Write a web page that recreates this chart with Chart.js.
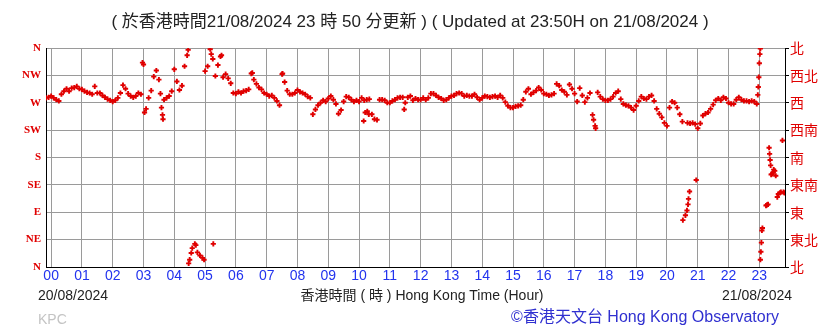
<!DOCTYPE html>
<html lang="zh-HK">
<head>
<meta charset="UTF-8">
<title>KPC wind direction</title>
<script src="https://cdn.jsdelivr.net/npm/chart.js@4.4.1/dist/chart.umd.min.js"></script>
<style>
  body { margin: 0; background: #fff; }
</style>
</head>
<body>
<canvas id="chart" width="838" height="331"></canvas>
<script>
// wind direction in degrees, one reading every 5 minutes from 23:50 on 20/08
const startMinute = -10;
const stepMinutes = 5;
const bearing = [
  278, 279,
  281, 278, 275, 273, 284, 289, 293, 289, 294, 295, 297, 293, // 00
  292, 289, 287, 286, 284, 297, 286, 286, 282, 279, 276, 274, // 01
  272, 274, 278, 286, 299, 293, 285, 281, 279, 281, 286, 284, // 02
  333, 260, 278, 290, 313, 323, 308, 262, 275, 278, 281, 289, // 03
  325, 305, 291, 298, 330, 348, 12, 31, 38, 24, 19, 15,       // 04
  322, 330, 358, 342, 314, 332, 346, 312, 317, 310, 302, 286, // 05
  285, 288, 286, 289, 290, 292, 318, 308, 301, 295, 292, 286, // 06
  284, 281, 282, 278, 273, 266, 317, 304, 290, 284, 284, 286, // 07
  291, 288, 286, 284, 280, 278, 251, 259, 266, 270, 274, 272, // 08
  277, 281, 275, 268, 252, 258, 272, 280, 279, 275, 272, 274, // 09
  272, 278, 274, 275, 276, 251, 243, 242, 275, 275, 274, 270, // 10
  270, 273, 275, 278, 279, 279, 270, 279, 281, 274, 277, 275, // 11
  275, 278, 275, 278, 285, 285, 282, 279, 277, 274, 275, 278, // 12
  281, 282, 285, 286, 285, 281, 282, 281, 281, 284, 279, 275, // 13
  278, 281, 280, 279, 280, 281, 279, 282, 278, 271, 265, 262, // 14
  262, 264, 265, 266, 275, 288, 293, 284, 287, 290, 295, 291, // 15
  285, 284, 282, 283, 285, 301, 298, 291, 288, 283, 300, 293, // 16
  285, 272, 294, 282, 271, 278, 286, 250, 232, 287, 280, 276, // 17
  274, 274, 276, 280, 286, 289, 276, 268, 266, 265, 262, 258, // 18
  265, 273, 280, 277, 276, 280, 282, 273, 260, 252, 246, 237, // 19
  232, 262, 272, 270, 262, 251, 239, null, 237, 236, 237, 235, // 20
  228, 236, 249, 252, 254, 260, 267, 274, 277, 274, 279, 277, // 21
  270, 268, 268, 275, 279, 275, 273, 273, 272, 273, 272, 268, // 22
  335, 60, null, 102, 186, 153, 158, 115, 122, 208            // 23
];

// extra readings in between (jumps, stray points, wrap round north)
const extraMinute = [
  178, 182, 213, 217, 218, 267, 268, 273, 282, 298,
  312, 316, 332, 392, 451, 609, 612, 616, 619, 688,
  1057, 1061, 1231, 1236, 1239, 1241, 1242, 1244, 1257,
  1377, 1378, 1379, 1381, 1382, 1382, 1383, 1384, 1386,
  1393, 1397, 1399, 1401, 1402, 1403, 1407, 1408, 1412,
  1417, 1422, 1427, 1429
];
const extraBearing = [
  336, 254, 285, 250, 243, 357, 6, 23, 36, 12,
  350, 38, 348, 319, 318, 240, 254, 256, 251, 259,
  242, 228, 77, 85, 93, 103, 112, 124, 143,
  283, 296, 312, 350, 359, 12, 25, 40, 64,
  101, 103, 196, 176, 167, 152, 156, 160, 150,
  120, 123, 123, 122
];

const hourLabels = ['00','01','02','03','04','05','06','07','08','09','10','11',
                    '12','13','14','15','16','17','18','19','20','21','22','23'];
const dirLabels = ['N','NE','E','SE','S','SW','W','NW','N'];
const dirLabelsZh = ['北','東北','東','東南','南','西南','西','西北','北'];

const titleText = '( 於香港時間21/08/2024 23 時 50 分更新 ) ( Updated at 23:50H on 21/08/2024 )';
const dateFrom = '20/08/2024';
const dateTo = '21/08/2024';
const axisTitle = '香港時間 ( 時 ) Hong Kong Time (Hour)';
const stationCode = 'KPC';
const credit = '©香港天文台 Hong Kong Observatory';

const points = [];
bearing.forEach((b, i) => {
  if (b !== null) points.push({ x: startMinute + i * stepMinutes, y: b });
});
extraMinute.forEach((m, i) => points.push({ x: m, y: extraBearing[i] }));

const red = '#e00000';
const blue = '#2233ee';
const sans = '"Liberation Sans", "Noto Sans CJK TC", sans-serif';

const textPlugin = {
  id: 'texts',
  afterDraw(chart) {
    const ctx = chart.ctx;
    ctx.save();
    ctx.textBaseline = 'middle';
    ctx.fillStyle = '#222';
    ctx.font = '17px ' + sans;
    ctx.textAlign = 'center';
    ctx.fillText(titleText, 410, 22);

    ctx.font = '14px ' + sans;
    ctx.textAlign = 'left';
    ctx.fillText(dateFrom, 38, 296);
    ctx.textAlign = 'center';
    ctx.fillText(axisTitle, 422, 296);
    ctx.textAlign = 'right';
    ctx.fillText(dateTo, 792, 296);

    ctx.textAlign = 'left';
    ctx.fillStyle = '#c4c4c4';
    ctx.fillText(stationCode, 38, 320);

    ctx.font = '16px ' + sans;
    ctx.fillStyle = '#3030d0';
    ctx.textAlign = 'right';
    ctx.fillText(credit, 779, 318);
    ctx.restore();
  }
};

const gridStyle = {
  color: '#9a9a9a',
  borderDash: [2, 2],
  lineWidth: 1
};

new Chart(document.getElementById('chart'), {
  type: 'scatter',
  data: {
    datasets: [{
      data: points,
      pointStyle: 'cross',
      pointRadius: 2.6,
      pointBorderWidth: 1.9,
      borderColor: red,
      backgroundColor: red
    }]
  },
  options: {
    responsive: false,
    animation: false,
    layout: { padding: { top: 48, left: 0, right: 0, bottom: 0 } },
    plugins: {
      legend: { display: false },
      tooltip: { enabled: false }
    },
    scales: {
      x: {
        type: 'linear',
        min: -10,
        max: 1430,
        afterBuildTicks: axis => {
          axis.ticks = hourLabels.map((l, i) => ({ value: i * 60 }));
        },
        afterFit: axis => { axis.height = 64; },
        grid: Object.assign({ drawTicks: false }, gridStyle),
        border: { display: true, color: '#000', width: 1 },
        ticks: {
          autoSkip: false,
          maxRotation: 0,
          padding: 1,
          color: blue,
          font: { family: sans, size: 14 },
          callback: (v, i) => hourLabels[i]
        }
      },
      y: {
        min: 0,
        max: 360,
        afterFit: axis => { axis.width = 46; },
        grid: Object.assign({ drawTicks: false }, gridStyle),
        border: { display: true, color: '#000', width: 1 },
        ticks: {
          stepSize: 45,
          padding: 5,
          color: red,
          font: { family: '"Liberation Serif", serif', size: 11, weight: 'bold' },
          callback: v => dirLabels[v / 45]
        }
      },
      y2: {
        position: 'right',
        min: 0,
        max: 360,
        afterFit: axis => { axis.width = 53; },
        grid: { drawOnChartArea: false, tickLength: 4, color: '#000' },
        border: { display: true, color: '#000', width: 1 },
        ticks: {
          stepSize: 45,
          padding: 1,
          color: red,
          font: { family: '"Noto Sans CJK TC", sans-serif', size: 14 },
          callback: v => dirLabelsZh[v / 45]
        }
      }
    }
  },
  plugins: [textPlugin]
});
</script>
</body>
</html>
